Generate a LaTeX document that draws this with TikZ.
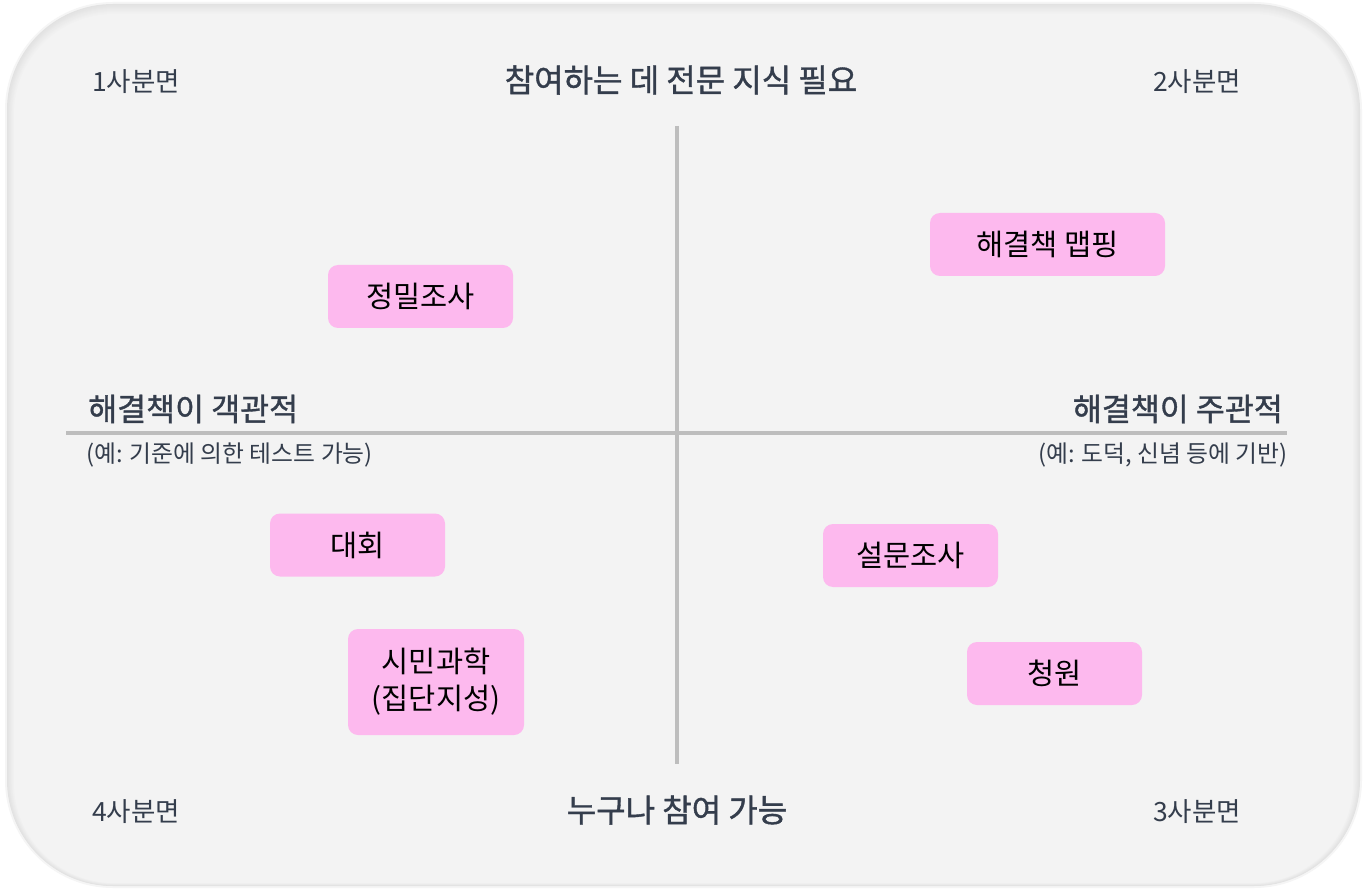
\documentclass[tikz,border=0pt]{standalone}
\usepackage{fontspec}
\setmainfont{Noto Sans CJK KR}
\newfontfamily\medfont[FakeBold=1.2]{Noto Sans CJK KR}
\definecolor{panel}{HTML}{F3F3F3}
\definecolor{shade1}{HTML}{E2E2E2}
\definecolor{axis}{HTML}{BDBDBD}
\definecolor{ink}{HTML}{343D4C}
\definecolor{pinkbox}{HTML}{FDB9EE}
\begin{document}
\begin{tikzpicture}[x=1pt,y=-1pt,
  item/.style={fill=pinkbox, rounded corners=10pt, minimum height=63pt, align=center, font=\fontsize{29.5}{37}\selectfont, text=black, inner sep=0pt},
  quad/.style={font=\fontsize{26.5}{30}\selectfont, text=ink, inner sep=0pt},
  axtitle/.style={font=\fontsize{32}{36}\selectfont\medfont, text=ink, inner sep=0pt},
  sidetitle/.style={font=\fontsize{31.5}{36}\selectfont\medfont, text=ink, inner sep=0pt},
  note/.style={font=\fontsize{23.8}{28}\selectfont, text=ink, inner sep=0pt},
  axisline/.style={draw=axis, line width=4.5pt}]
\useasboundingbox (0,0) rectangle (1367,890);
\fill[white] (0,0) rectangle (1367,890);
% panel with soft inner shadow edge
\fill[shade1!35!white, rounded corners=108pt] (5,2) rectangle (1362,888);
\foreach \k in {0,...,10}{
  \pgfmathsetmacro{\mix}{100-10*\k}
  \fill[shade1!\mix!panel, rounded corners={(106-\k*0.6)*1pt}]
    ({7+\k*0.7},{4+\k*1.0}) rectangle ({1360-\k*0.7},{886-\k*0.3});
}
% axes
\coordinate (vtop) at (677,126);
\coordinate (vbot) at (677,764);
\coordinate (hl) at (66,433);
\coordinate (hr) at (1287,433);
\draw[axisline] (vtop) -- (vbot);
\draw[axisline] (hl) -- (hr);
% titles
\node[axtitle] (top) at (681,80) {참여하는 데 전문 지식 필요};
\node[axtitle] (bottom) at (677,810) {누구나 참여 가능};
\node[quad, anchor=west] (q1) at (92,82) {1사분면};
\node[quad, anchor=west] (q2) at (1153,82) {2사분면};
\node[quad, anchor=west] (q4) at (92,812) {4사분면};
\node[quad, anchor=west] (q3) at (1153,812) {3사분면};
\node[sidetitle, anchor=west] (left) at (88,409) {해결책이 객관적};
\node[note, anchor=west] (leftnote) at (86,455) {(예: 기준에 의한 테스트 가능)};
\node[sidetitle, anchor=east] (right) at (1283,409) {해결책이 주관적};
\node[note, anchor=east] (rightnote) at (1288,455) {(예: 도덕, 신념 등에 기반)};
% items
\node[item, minimum width=185pt] (jm) at (420.5,296.5) {정밀조사};
\node[item, minimum width=235pt] (hm) at (1047.5,244.5) {해결책 맵핑};
\node[item, minimum width=175pt] (dh) at (357.5,545) {대회};
\node[item, minimum width=176pt, minimum height=106pt] (sm) at (436,682) {시민과학\\(집단지성)};
\node[item, minimum width=175pt] (sj) at (910.5,555.5) {설문조사};
\node[item, minimum width=175pt] (cw) at (1054.5,673.5) {청원};
\end{tikzpicture}
\end{document}
